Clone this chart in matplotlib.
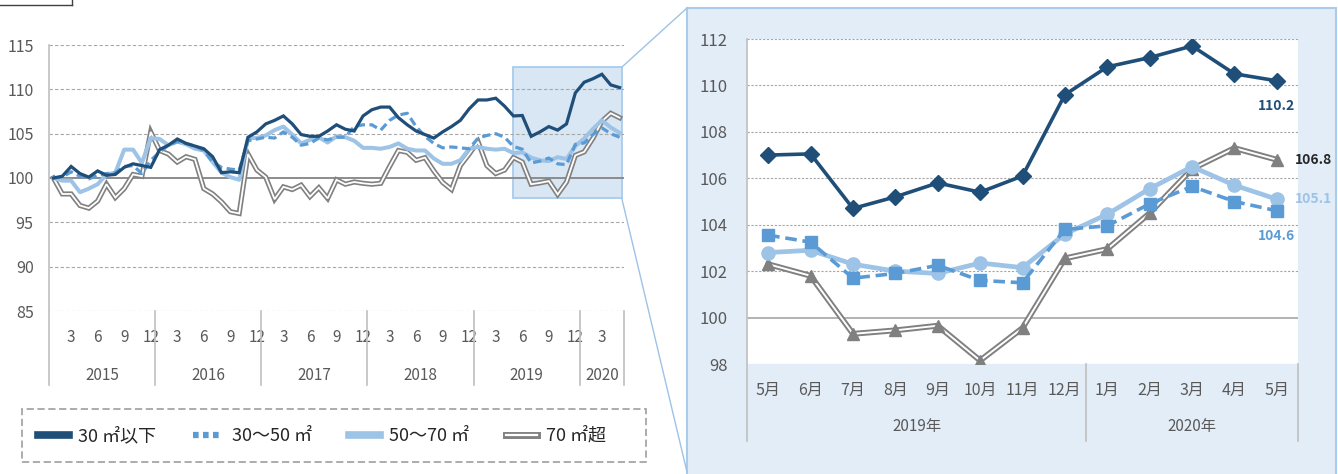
import matplotlib
matplotlib.use('Agg')
import matplotlib.pyplot as plt
from matplotlib.lines import Line2D
from matplotlib.patches import Rectangle
import matplotlib.transforms as mtrans

plt.rcParams['font.family'] = ['Noto Sans CJK JP', 'DejaVu Sans']

# ---------------- data ----------------
# Monthly index, Jan 2015 .. May 2020 (65 months)
years_long = [2015, 2016, 2017, 2018, 2019, 2020]
s_le30 = [100.0, 100.2, 101.3, 100.5, 100.1, 100.8, 100.3, 100.4, 101.2, 101.6, 101.4, 101.2,
          103.2, 103.7, 104.4, 103.9, 103.6, 103.3, 102.4, 100.6, 100.7, 100.6, 104.6, 105.2,
          106.1, 106.5, 107.0, 106.1, 104.9, 104.7, 104.7, 105.3, 106.0, 105.5, 105.3, 107.0,
          107.7, 108.0, 108.0, 106.8, 106.0, 105.3, 104.9, 104.5, 105.2, 105.8, 106.5, 107.8,
          108.8, 108.8, 109.0, 108.1, 107.0, 107.05, 104.7, 105.2, 105.8, 105.4, 106.1, 109.6,
          110.8, 111.2, 111.7, 110.5, 110.2]
s_30_50 = [100.0, 100.1, 100.7, 100.2, 99.9, 100.3, 100.5, 100.6, 101.3, 101.4, 100.5, 102.0,
           102.9, 103.7, 104.1, 103.9, 103.6, 103.1, 101.8, 101.2, 101.0, 100.9, 104.2, 104.4,
           104.6, 104.5, 105.2, 104.6, 103.7, 103.9, 104.5, 104.3, 104.6, 104.6, 105.8, 106.0,
           106.0, 105.4, 106.5, 107.1, 107.3, 105.8, 104.7, 103.9, 103.4, 103.5, 103.4, 103.3,
           104.5, 104.8, 105.0, 104.6, 103.55, 103.25, 101.7, 101.9, 102.25, 101.6, 101.5, 103.8,
           103.95, 104.9, 105.65, 105.0, 104.6]
s_50_70 = [100.0, 99.7, 99.7, 98.4, 98.8, 99.3, 100.4, 100.6, 103.2, 103.2, 101.7, 104.5,
           104.4, 103.7, 104.1, 103.8, 103.3, 103.1, 101.8, 100.6, 100.1, 99.8, 104.5, 104.5,
           104.8, 105.4, 105.8, 104.9, 103.9, 104.3, 104.6, 104.0, 104.7, 104.6, 104.2, 103.4,
           103.4, 103.3, 103.5, 103.9, 103.3, 103.1, 103.1, 102.2, 101.6, 101.6, 102.0, 103.3,
           103.5, 103.3, 103.2, 103.3, 102.8, 102.9, 102.3, 102.0, 101.9, 102.35, 102.15, 103.6,
           104.45, 105.55, 106.5, 105.7, 105.1]
s_gt70 = [100.0, 98.2, 98.2, 96.9, 96.6, 97.4, 99.3, 97.8, 98.8, 100.4, 100.2, 105.2,
          103.1, 102.7, 101.8, 102.4, 102.1, 98.8, 98.2, 97.3, 96.2, 96.0, 102.7, 100.9,
          100.1, 97.6, 99.0, 98.7, 99.2, 97.9, 98.9, 97.7, 99.8, 99.3, 99.55, 99.4,
          99.3, 99.4, 101.3, 103.1, 102.9, 102.0, 102.3, 100.8, 99.5, 98.7, 101.4, 102.7,
          104.1, 101.4, 100.5, 100.9, 102.3, 101.8, 99.3, 99.45, 99.65, 98.15, 99.55, 102.55,
          102.95, 104.5, 106.4, 107.3, 106.8]
series_names = ['30 ㎡以下', '30～50 ㎡', '50～70 ㎡', '70 ㎡超']

# zoomed part: May 2019 .. May 2020
zoom_months = ['5月', '6月', '7月', '8月', '9月', '10月', '11月', '12月',
               '1月', '2月', '3月', '4月', '5月']
zoom_years = ['2019年', '2020年']
zoom_start = 52

# ---------------- style ----------------
C_DARK = '#1F4E79'
C_MID = '#5B9BD5'
C_LIGHT = '#9DC3E6'
C_GRAY = '#808080'
C_TXT = '#595959'

W, H = 1338, 474
fig = plt.figure(figsize=(W / 100, H / 100), dpi=100)
fig.patch.set_facecolor('white')


def fy(py):
    return 1 - py / H


def axes_px(x0, y0, x1, y1):
    return fig.add_axes([x0 / W, 1 - y1 / H, (x1 - x0) / W, (y1 - y0) / H])


def double_line(ax, x, y, outer, inner, z):
    ax.plot(x, y, color=C_GRAY, lw=outer, zorder=z, solid_joinstyle='miter')
    ax.plot(x, y, color='white', lw=inner, zorder=z + 0.01, solid_joinstyle='miter')


# ---------------- right background box ----------------
fig.add_artist(Rectangle((687 / W, fy(476)), (1336 - 687) / W, (476 - 8) / H,
                         transform=fig.transFigure, facecolor='#E3EDF8',
                         edgecolor='#A9CBEC', lw=1.5, zorder=-10))

# top-left fragment
fig.add_artist(Line2D([0, 72 / W], [fy(5), fy(5)], color='#404040', lw=1,
                      transform=fig.transFigure))
fig.add_artist(Line2D([72 / W, 72 / W], [fy(0), fy(5)], color='#404040', lw=1,
                      transform=fig.transFigure))

# ---------------- left chart ----------------
ax1 = axes_px(49, 45, 624, 311)
n = len(s_le30)
x = list(range(n))
ax1.set_xlim(-0.5, n - 0.5)
ax1.set_ylim(85, 115)
ax1.set_yticks(range(85, 116, 5))
for s in ax1.spines.values():
    s.set_visible(False)
for v in range(85, 116, 5):
    if v == 100:
        ax1.axhline(v, color='#8C8C8C', lw=1.4, zorder=0.6)
    else:
        ax1.axhline(v, color='#A6A6A6', lw=0.8, ls=(0, (3, 2)), zorder=0.6)

ax1.add_patch(Rectangle((zoom_start, 97.7), (n - 1 + 0.25) - zoom_start, 112.5 - 97.7,
                        facecolor='#D9E6F4', edgecolor='#A9CBEC', lw=1.3, zorder=0.5))

double_line(ax1, x, s_gt70, 3.7, 1.3, 2)
ax1.plot(x, s_50_70, color=C_LIGHT, lw=2.9, zorder=3, solid_joinstyle='round')
ax1.plot(x, s_30_50, color=C_MID, lw=2.3, dashes=(2.6, 1.4), zorder=4)
ax1.plot(x, s_le30, color=C_DARK, lw=2.3, zorder=5, solid_joinstyle='miter')

mticks = [i for i in range(n) if (i % 12 + 1) % 3 == 0]
ax1.set_xticks(mticks)
ax1.set_xticklabels([str(i % 12 + 1) for i in mticks], fontsize=11, color=C_TXT)
ax1.tick_params(axis='x', length=0, pad=13)
ax1.tick_params(axis='y', length=0, pad=11, labelsize=11.5, labelcolor=C_TXT)

blend1 = mtrans.blended_transform_factory(ax1.transData, ax1.transAxes)
ybot1 = -(385 - 311) / (311 - 45)
ax1.add_line(Line2D([-0.5, -0.5], [ybot1, 1], transform=blend1, color='#BFBFBF',
                    lw=1.2, clip_on=False))
for b in [11.5, 23.5, 35.5, 47.5, 59.5, n - 0.5]:
    ax1.add_line(Line2D([b, b], [ybot1, 0], transform=blend1, color='#BFBFBF',
                        lw=1.2, clip_on=False))
yyear1 = -(376 - 311) / (311 - 45)
for k, yr in enumerate(years_long):
    lo = 12 * k - 0.5
    hi = min(12 * k + 11.5, n - 0.5)
    ax1.text((lo + hi) / 2, yyear1, str(yr), transform=blend1, ha='center',
             va='center', fontsize=11, color=C_TXT)

# ---------------- right chart ----------------
ax2 = axes_px(747, 39, 1298, 364)
ax2.set_facecolor('white')
m = len(zoom_months)
xz = list(range(m))
ax2.set_xlim(-0.5, m - 0.5)
ax2.set_ylim(98, 112)
ax2.set_yticks(range(98, 113, 2))
for s in ax2.spines.values():
    s.set_visible(False)
for v in range(98, 113, 2):
    if v == 100:
        ax2.axhline(v, color='#A6A6A6', lw=1.2, zorder=0.6)
    else:
        ax2.axhline(v, color='#A6A6A6', lw=0.8, ls=(0, (2, 1.5)), zorder=0.6)

z_le30 = s_le30[zoom_start:]
z_30_50 = s_30_50[zoom_start:]
z_50_70 = s_50_70[zoom_start:]
z_gt70 = s_gt70[zoom_start:]

double_line(ax2, xz, z_gt70, 4.2, 1.4, 2)
ax2.plot(xz, z_gt70, ls='none', marker='^', ms=8, color=C_GRAY, zorder=2.1)
ax2.plot(xz, z_50_70, color=C_LIGHT, lw=3.4, marker='o', ms=9.5, zorder=3)
ax2.plot(xz, z_30_50, color=C_MID, lw=2.6, dashes=(3.2, 1.6), marker='s', ms=8.5,
         zorder=4)
ax2.plot(xz, z_le30, color=C_DARK, lw=2.6, marker='D', ms=8, zorder=5)

ax2.set_xticks(xz)
ax2.set_xticklabels(zoom_months, fontsize=11.5, color=C_TXT)
ax2.tick_params(axis='x', length=0, pad=13)
ax2.tick_params(axis='y', length=0, pad=14, labelsize=12, labelcolor=C_TXT)

blend2 = mtrans.blended_transform_factory(ax2.transData, ax2.transAxes)
ybot2 = -(441 - 364) / (364 - 39)
ax2.add_line(Line2D([-0.5, -0.5], [ybot2, 1], transform=blend2, color='#BFBFBF',
                    lw=1.2, clip_on=False))
for b in [7.5, m - 0.5]:
    ax2.add_line(Line2D([b, b], [ybot2, 0], transform=blend2, color='#BFBFBF',
                        lw=1.2, clip_on=False))
yyear2 = -(427 - 364) / (364 - 39)
ax2.text(3.5, yyear2, zoom_years[0], transform=blend2, ha='center', va='center',
         fontsize=11, color=C_TXT)
ax2.text(10, yyear2, zoom_years[1], transform=blend2, ha='center', va='center',
         fontsize=11, color=C_TXT)

# data labels at last point
last = m - 1
ax2.annotate(f'{z_le30[-1]:.1f}', (last, z_le30[-1]), xytext=(0, -18),
             textcoords='offset points', ha='center', va='center', fontsize=10,
             fontweight='bold', color=C_DARK)
ax2.annotate(f'{z_gt70[-1]:.1f}', (last, z_gt70[-1]), xytext=(13, 0),
             textcoords='offset points', ha='left', va='center', fontsize=10,
             fontweight='bold', color='#262626', annotation_clip=False)
ax2.annotate(f'{z_50_70[-1]:.1f}', (last, z_50_70[-1]), xytext=(13, 0),
             textcoords='offset points', ha='left', va='center', fontsize=10,
             fontweight='bold', color=C_LIGHT, annotation_clip=False)
ax2.annotate(f'{z_30_50[-1]:.1f}', (last, z_30_50[-1]), xytext=(0, -18),
             textcoords='offset points', ha='center', va='center', fontsize=10,
             fontweight='bold', color=C_MID)

# ---------------- connectors ----------------
inv = fig.transFigure.inverted()
p_top = inv.transform(ax1.transData.transform((n - 1 + 0.25, 112.5)))
p_bot = inv.transform(ax1.transData.transform((n - 1 + 0.25, 97.7)))
fig.add_artist(Line2D([p_top[0], 687 / W], [p_top[1], fy(8)], color=C_LIGHT, lw=1,
                      transform=fig.transFigure))
fig.add_artist(Line2D([p_bot[0], 687 / W], [p_bot[1], fy(472)], color=C_LIGHT, lw=1,
                      transform=fig.transFigure))

# ---------------- legend ----------------
h1 = Line2D([], [], color=C_DARK, lw=5.5)
h2 = Line2D([], [], color=C_MID, lw=4.5, dashes=(0.9, 0.7))
h3 = Line2D([], [], color=C_LIGHT, lw=5.5)
h4 = (Line2D([], [], color=C_GRAY, lw=5), Line2D([], [], color='white', lw=1.6))
leg = fig.legend([h1, h2, h3, h4], series_names, loc='center left',
                 bbox_to_anchor=(38 / W, fy(436)), ncol=4, frameon=False,
                 fontsize=13, handlelength=1.7, handletextpad=0.5,
                 columnspacing=2.05, borderpad=0, borderaxespad=0)
for t in leg.get_texts():
    t.set_color('#262626')
fig.add_artist(Rectangle((22 / W, fy(462)), (646 - 22) / W, (462 - 409) / H,
                         transform=fig.transFigure, fill=False, edgecolor='#A6A6A6',
                         ls=(0, (4, 2)), lw=1.3))

fig.savefig('out.png', dpi=100, facecolor='white')
